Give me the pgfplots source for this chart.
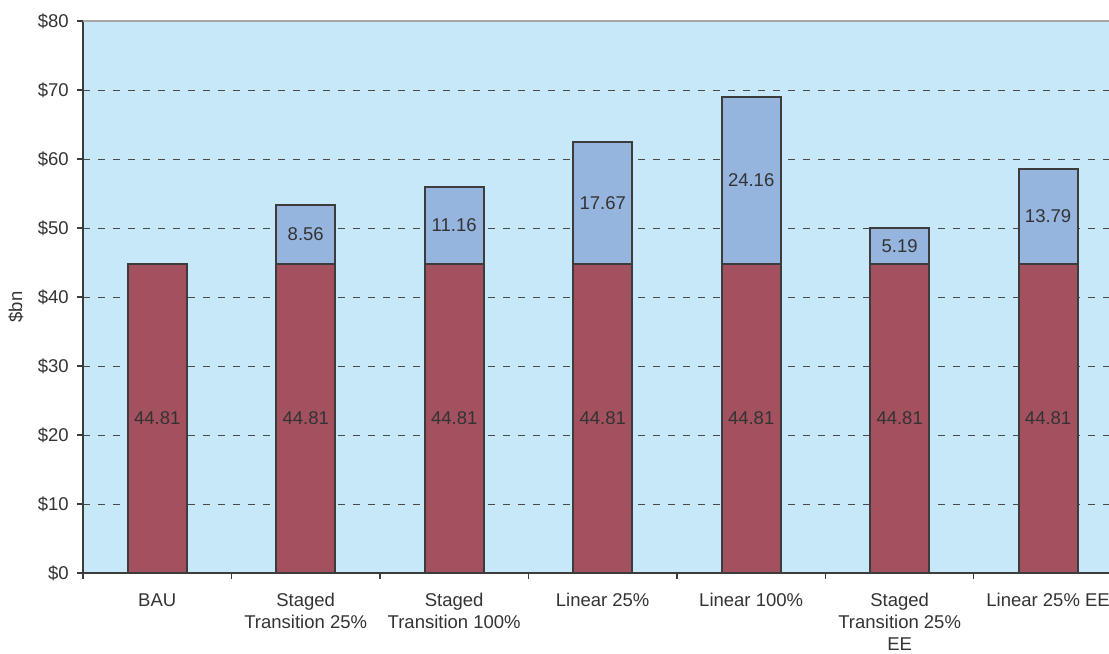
\documentclass[border=0pt]{standalone}
\usepackage{pgfplots}
\usepackage{pgfplotstable}
\pgfplotsset{compat=1.18}
\usepackage{fontspec}
\setmainfont{Liberation Sans}

\definecolor{plotbg}{HTML}{C6E8F8}
\definecolor{barred}{HTML}{A3505F}
\definecolor{barblue}{HTML}{95B5DF}
\definecolor{edge}{HTML}{3C3C3C}
\definecolor{gridc}{HTML}{4A4A4A}
\definecolor{txt}{HTML}{333333}
\definecolor{topline}{HTML}{A6A6A6}

% Annual cost by scenario ($bn): base cost plus additional cost
\pgfplotstableread{
pos base extra
0 44.81 0
1 44.81 8.56
2 44.81 11.16
3 44.81 17.67
4 44.81 24.16
5 44.81 5.19
6 44.81 13.79
}\costs

\pgfplotsset{
  common/.style={
    scale only axis,
    width=1026pt, height=552pt,
    at={(0,0)}, anchor=south west,
    xmin=-0.5, xmax=6.41,
    ymin=0, ymax=80,
  },
}

\begin{document}
\fontsize{18.5}{22}\selectfont
\begin{tikzpicture}
\begin{axis}[
  common,
  name=ax,
  ybar stacked,
  bar width=59pt,
  axis background/.style={fill=plotbg},
  axis x line*=bottom,
  axis y line*=left,
  axis line style={edge, line width=1.6pt},
  tick align=outside,
  major tick length=6pt,
  minor tick length=6pt,
  tick style={edge, line width=1.2pt},
  ytick={0,10,...,80},
  yticklabels={\$0,\$10,\$20,\$30,\$40,\$50,\$60,\$70,\$80},
  yticklabel style={text=txt, xshift=-2pt},
  xtick={0,...,6},
  major x tick style={draw=none},
  minor xtick={-0.5,0.5,...,5.5},
  xticklabels={BAU,Staged\\Transition 25\%,Staged\\Transition 100\%,Linear 25\%,Linear 100\%,Staged\\Transition 25\%\\EE,Linear 25\% EE},
  xticklabel style={text=txt, align=center, anchor=north, yshift=-8pt},
  ymajorgrids,
  grid style={gridc, dash pattern=on 7.5pt off 7.5pt, line width=0.9pt},
  ylabel={\$bn},
  every axis y label/.style={at={(axis description cs:-0.0653,0.482)}, rotate=90, anchor=center, text=txt},
]
\addplot[fill=barred, draw=edge, line width=2pt] table[x=pos, y=base] {\costs};
\addplot[fill=barblue, draw=edge, line width=2pt] table[x=pos, y=extra] {\costs};
\draw[topline, line width=2.4pt] (rel axis cs:0,1) -- (rel axis cs:1,1);
\end{axis}

% value labels, centred in each segment
\begin{axis}[
  common,
  hide axis,
  every node near coord/.append style={anchor=center, text=txt},
]
\addplot[only marks, mark=none, nodes near coords, point meta=explicit symbolic]
  table[x=pos, y expr=\thisrow{base}/2, meta=base] {\costs};
\addplot[only marks, mark=none, nodes near coords, point meta=explicit symbolic,
  skip coords between index={0}{1}]
  table[x=pos, y expr=\thisrow{base}+\thisrow{extra}/2, meta=extra] {\costs};
\end{axis}

\pgfresetboundingbox
\path[use as bounding box] ([shift={(-83pt,-80.5pt)}]ax.south west) rectangle ([shift={(0pt,21pt)}]ax.north east);
\end{tikzpicture}
\end{document}
